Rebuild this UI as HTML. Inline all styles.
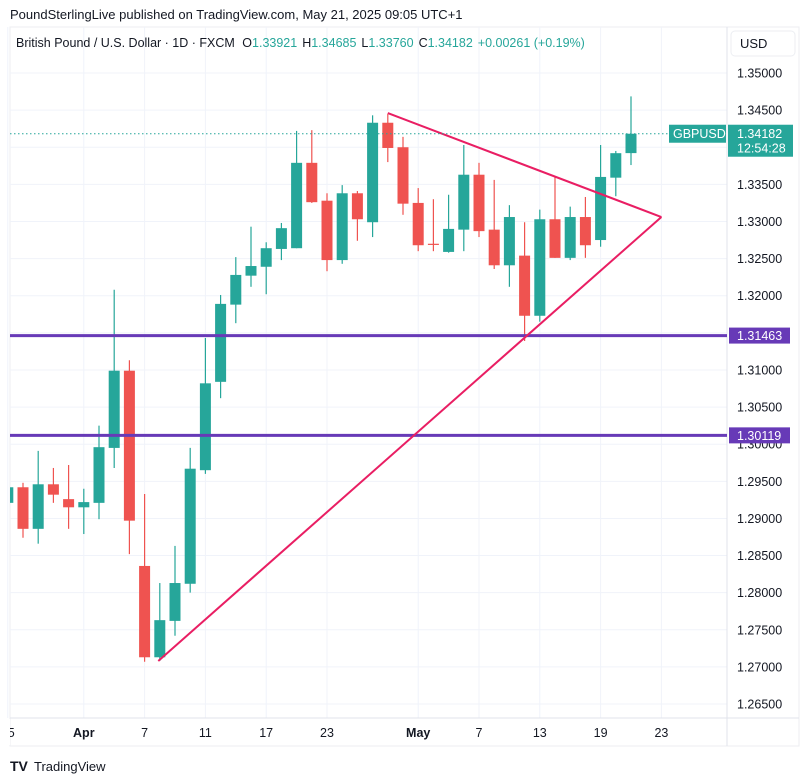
<!DOCTYPE html>
<html><head><meta charset="utf-8"><style>
body{margin:0;background:#fff;width:809px;height:781px;overflow:hidden;font-family:"Liberation Sans",sans-serif}
svg{display:block}
</style></head><body>
<svg id="c" width="809" height="781" xmlns="http://www.w3.org/2000/svg">
<defs><clipPath id="plot"><rect x="10" y="27" width="717" height="691"/></clipPath></defs>
<text x="10" y="19" font-size="13" fill="#131722">PoundSterlingLive published on TradingView.com, May 21, 2025 09:05 UTC+1</text>
<rect x="10" y="27" width="789" height="719" fill="none" stroke="#eceef2"/>
<g id="grid"></g>
<line x1="727" y1="27" x2="727" y2="746" stroke="#e0e3eb"/>
<line x1="10" y1="718" x2="799" y2="718" stroke="#e0e3eb"/>
<g id="candles" clip-path="url(#plot)"></g>
<g id="axes"></g>
<g id="overlay"></g>
<text x="16" y="47" font-size="12.5" fill="#131722">British Pound / U.S. Dollar · 1D · FXCM <tspan dx="4">O</tspan><tspan fill="#26a69a">1.33921</tspan><tspan dx="5">H</tspan><tspan fill="#26a69a">1.34685</tspan><tspan dx="5">L</tspan><tspan fill="#26a69a">1.33760</tspan><tspan dx="5">C</tspan><tspan fill="#26a69a">1.34182</tspan><tspan dx="5" fill="#26a69a">+0.00261 (+0.19%)</tspan></text>
<rect x="731" y="31" width="64" height="25" rx="4" fill="#fff" stroke="#eceef2"/>
<text x="740" y="48" font-size="13" fill="#131722">USD</text>
<g><text x="10" y="771" font-size="14" font-weight="bold" fill="#131722">TV</text><text x="34" y="771" font-size="13" fill="#131722">TradingView</text></g>
</svg>
<script>
const opens =[1.2921,1.2942,1.2886,1.2946,1.2926,1.2915,1.2921,1.2995,1.3099,1.2836,1.2713,1.2762,1.2812,1.2965,1.3084,1.3188,1.3227,1.3239,1.3263,1.3264,1.3379,1.3328,1.3248,1.3338,1.3299,1.3433,1.3400,1.3325,1.3270,1.3259,1.3289,1.3363,1.3289,1.3241,1.3254,1.3173,1.3303,1.3251,1.3306,1.3275,1.3359,1.33921];
const highs =[1.2950,1.2948,1.2991,1.2968,1.2972,1.2940,1.3025,1.3208,1.3113,1.2933,1.2813,1.2863,1.2995,1.3143,1.3201,1.3252,1.3293,1.3272,1.3298,1.3422,1.3423,1.3338,1.3349,1.3341,1.3443,1.3445,1.3414,1.3345,1.3330,1.3336,1.3403,1.3379,1.3356,1.3322,1.3299,1.3316,1.3360,1.3320,1.3333,1.3403,1.3395,1.34685];
const lows  =[1.2915,1.2874,1.2866,1.2921,1.2886,1.2879,1.2899,1.2968,1.2852,1.2707,1.2708,1.2742,1.2800,1.2960,1.3062,1.3163,1.3212,1.3202,1.3248,1.3264,1.3325,1.3233,1.3243,1.3274,1.3279,1.3380,1.3309,1.3260,1.3260,1.3258,1.3260,1.3279,1.3236,1.3212,1.3139,1.3165,1.3251,1.3248,1.3251,1.3266,1.3334,1.33760];
const closes=[1.2942,1.2886,1.2946,1.2932,1.2915,1.2922,1.2996,1.3099,1.2897,1.2713,1.2763,1.2813,1.2967,1.3082,1.3189,1.3228,1.3240,1.3264,1.3291,1.3379,1.3326,1.3248,1.3338,1.3303,1.3433,1.3399,1.3324,1.3268,1.3269,1.3290,1.3363,1.3287,1.3241,1.3306,1.3173,1.3303,1.3251,1.3306,1.3268,1.3360,1.3392,1.34182];
const timeTickIdx=[0,5,9,13,17,21,27,31,35,39,43];
const timeTickLabels=["25","Apr","7","11","17","23","May","7","13","19","23"];
const priceTicks=[1.265,1.27,1.275,1.28,1.285,1.29,1.295,1.30,1.305,1.31,1.315,1.32,1.325,1.33,1.335,1.34,1.345,1.35];
const levels=[1.31463,1.30119];
const triangle=[[9.9,1.2708],[43,1.3306],[25,1.3446]];
const lastPrice=1.34182;

const NS="http://www.w3.org/2000/svg";
const X=i=>144.6+(i-9)*15.2;
const Y=p=>73+(1.35-p)*7424;
function mk(tag,attrs,parent){const e=document.createElementNS(NS,tag);for(const k in attrs)e.setAttribute(k,attrs[k]);parent.appendChild(e);return e;}
const grid=document.getElementById('grid'),cg=document.getElementById('candles'),ov=document.getElementById('overlay'),ax=document.getElementById('axes');
priceTicks.forEach(p=>{
  const l=mk('line',{x1:10,x2:727,y1:Y(p),y2:Y(p),stroke:'#f0f3fa'},grid);
  
  
  const t=mk('text',{x:737,y:Y(p)+4.5,'font-size':12.5,fill:'#131722'},ax);
  t.textContent=p.toFixed(5);
  
  
});
timeTickIdx.forEach((i,k)=>{
  const l=mk('line',{x1:X(i),x2:X(i),y1:27,y2:718,stroke:'#f0f3fa'},grid);
  
  
  const lab=timeTickLabels[k];
  const t=mk('text',{x:X(i),y:737,'font-size':12.5,fill:'#131722','text-anchor':'middle','font-weight':(lab==='Apr'||lab==='May')?'bold':'normal'},ax);
  t.textContent=lab;
  
  
});
mk('rect',{x:0,y:719,width:10,height:26,fill:'#fff'},ax);
opens.forEach((o,i)=>{
  const c=closes[i],up=c>=o,col=up?'#26a69a':'#ef5350',x=X(i);
  const g=mk('g',{},cg);
  
  
  mk('line',{x1:x,x2:x,y1:Y(highs[i]),y2:Y(lows[i]),stroke:col,'stroke-width':1.2},g);
  const top=Y(Math.max(o,c)),h=Math.max(1.2,Y(Math.min(o,c))-top);
  mk('rect',{x:x-5.5,y:top,width:11,height:h,fill:col},g);
});
levels.forEach(p=>{
  const l=mk('line',{x1:10,x2:727,y1:Y(p),y2:Y(p),stroke:'#673ab7','stroke-width':3},ov);
  
  
  const r=mk('rect',{x:729,y:Y(p)-8,width:61,height:16,fill:'#673ab7'},ov);
  
  
  const t=mk('text',{x:737,y:Y(p)+4.5,'font-size':12.5,fill:'#fff'},ov);
  t.textContent=p.toFixed(5);
  
  
});
[[0,1],[2,1]].forEach(([a,b])=>{
  const l=mk('line',{x1:X(triangle[a][0]),y1:Y(triangle[a][1]),x2:X(triangle[b][0]),y2:Y(triangle[b][1]),stroke:'#e91e63','stroke-width':2},ov);
  
  
});
const pl=mk('line',{x1:10,x2:668,y1:Y(lastPrice),y2:Y(lastPrice),stroke:'#26a69a','stroke-dasharray':'1.5 2.5'},ov);


const yl=Y(lastPrice);
const sb=mk('rect',{x:669,y:yl-9,width:57,height:18,fill:'#26a69a'},ov);


const st=mk('text',{x:673,y:yl+4.5,'font-size':12.5,fill:'#fff'},ov);
st.textContent='GBPUSD';


const pb=mk('rect',{x:728,y:yl-9,width:65,height:32,fill:'#26a69a'},ov);


const pt=mk('text',{x:737,y:yl+4.5,'font-size':12.5,fill:'#fff'},ov);
pt.textContent=lastPrice.toFixed(5);


const ct=mk('text',{x:737,y:yl+19,'font-size':12.5,fill:'#fff'},ov);
ct.textContent='12:54:28';


</script>
</body></html>
